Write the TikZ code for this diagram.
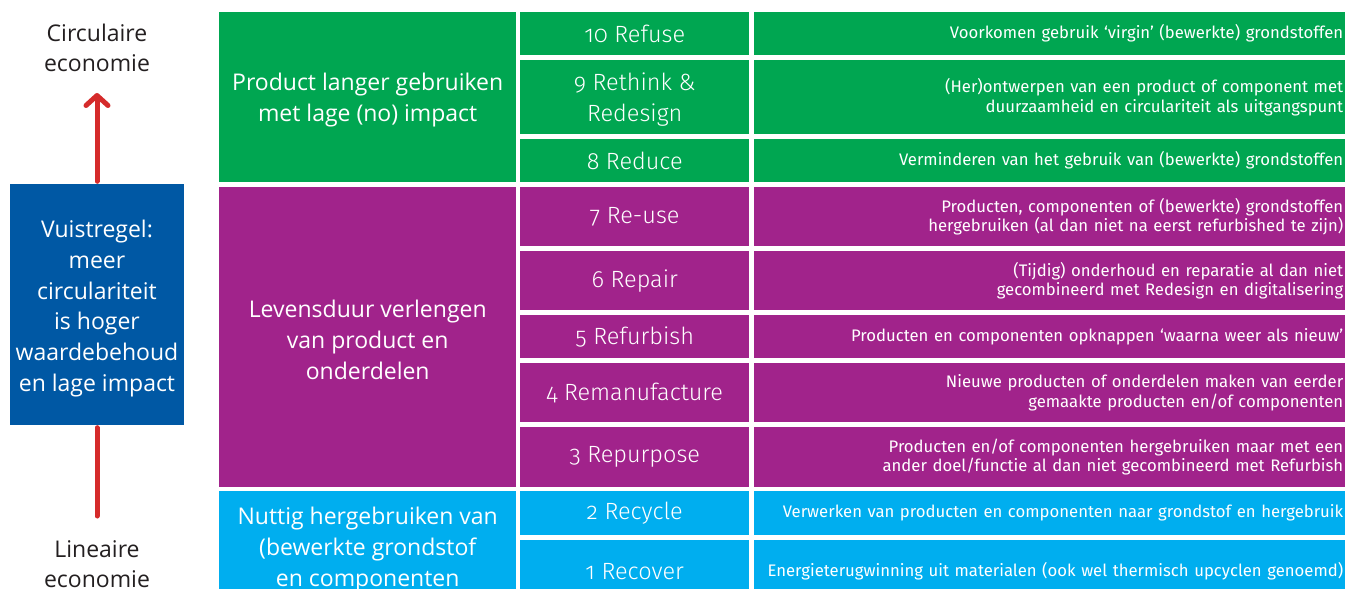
\documentclass[tikz,border=0pt]{standalone}
\usepackage{fontspec}
\setmainfont{Open Sans}
\newfontfamily\stepfont{Fira Sans Light}[Numbers=OldStyle]
\newfontfamily\descfont{Fira Sans}[Numbers=OldStyle]
\usetikzlibrary{arrows.meta}

\definecolor{groen}{RGB}{0,166,81}
\definecolor{paars}{RGB}{161,35,139}
\definecolor{cyaan}{RGB}{0,174,239}
\definecolor{donkerblauw}{RGB}{0,88,164}
\definecolor{rood}{RGB}{213,43,43}
\definecolor{inkt}{RGB}{35,31,32}

\begin{document}
\begin{tikzpicture}[x=1pt,y=-1pt,
    cell/.style={inner sep=0pt,text=white,align=center,anchor=north west},
    groupcell/.style={cell,minimum width=297pt,font=\fontsize{23}{31}\selectfont},
    stepcell/.style={cell,minimum width=229pt,font=\stepfont\fontsize{23.5}{31}\selectfont},
    desccell/.style={cell,inner xsep=2pt,text width=587pt,align=right,font=\descfont\fontsize{16.7}{19.5}\selectfont},
    sidetext/.style={align=center,text=inkt,font=\fontsize{23}{30}\selectfont},
    rulebox/.style={fill=donkerblauw,text=white,align=center,inner sep=0pt,
        minimum width=174pt,minimum height=241pt,font=\fontsize{23}{30.7}\selectfont},
    redline/.style={draw=rood,line width=5pt,line cap=round}]
    \useasboundingbox (0,0) rectangle (1345,589);
    \clip (0,0) rectangle (1345,589);
    \node[sidetext] (circ) at (97,48){Circulaire\\economie};
    \node[sidetext] (lin) at (97,564){Lineaire\\economie};
    \node[rulebox] (rule) at (97,304.5){\rule{0pt}{25.5pt}Vuistregel:\\meer\\circulariteit\\is hoger\\waardebehoud\\en lage impact};
    \coordinate (uptip) at (97,93);
    \coordinate (lowend) at (97,516);
    \draw[redline,-{Straight Barb[length=10pt,width=22pt,round]}] ([yshift=2.5pt]rule.north) -- (uptip);
    \draw[redline] ([yshift=-2.5pt]rule.south) -- (lowend);
    \node[groupcell,fill=groen,minimum height=170pt] (langer) at (219,12){\rule{0pt}{23.5pt}Product langer gebruiken\\met lage (no) impact};
    \node[groupcell,fill=paars,minimum height=300pt] (levensduur) at (219,187){\rule{0pt}{23.5pt}Levensduur verlengen\\van product en\\onderdelen};
    \node[groupcell,fill=cyaan,minimum height=112pt] (nuttig) at (219,491){\rule{0pt}{22pt}Nuttig hergebruiken van\\(bewerkte grondstof\\en componenten};
    \foreach \n/\boven/\onder/\kleur/\naam/\uitleg in {
        10/12/55/groen/{10 Refuse}/{Voorkomen gebruik ‘virgin’ (bewerkte) grondstoffen},
        9/60/134/groen/{\rule{0pt}{23pt}9 Rethink \&\\Redesign}/{(Her)ontwerpen van een product of component met\\duurzaamheid en circulariteit als uitgangspunt},
        8/139/182/groen/{8 Reduce}/{Verminderen van het gebruik van (bewerkte) grondstoffen},
        7/187/246/paars/{7 Re-use}/{Producten, componenten of (bewerkte) grondstoffen\\hergebruiken (al dan niet na eerst refurbished te zijn)},
        6/251/310/paars/{6 Repair}/{(Tijdig) onderhoud en reparatie al dan niet\\gecombineerd met Redesign en digitalisering},
        5/315/358/paars/{5 Refurbish}/{Producten en componenten opknappen ‘waarna weer als nieuw’},
        4/363/422/paars/{4 Remanufacture}/{Nieuwe producten of onderdelen maken van eerder\\gemaakte producten en/of componenten},
        3/427/487/paars/{3 Repurpose}/{Producten en/of componenten hergebruiken maar met een\\ander doel/functie al dan niet gecombineerd met Refurbish},
        2/491/535/cyaan/{2 Recycle}/{Verwerken van producten en componenten naar grondstof en hergebruik},
        1/540/603/cyaan/{1 Recover}/{Energieterugwinning uit materialen (ook wel thermisch upcyclen genoemd)}}{
        \node[stepcell,fill=\kleur,minimum height={(\onder-\boven)*1pt}] (r\n) at (520,\boven){\naam};
        \node[desccell,fill=\kleur,minimum height={(\onder-\boven)*1pt}] (d\n) at (754,\boven){\uitleg};
    }
\end{tikzpicture}
\end{document}
